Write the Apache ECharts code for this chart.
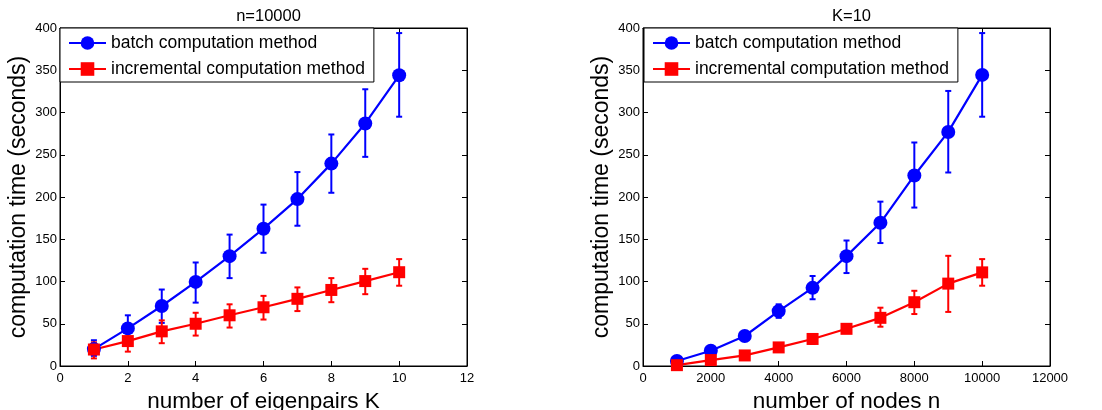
<!DOCTYPE html>
<html>
<head>
<meta charset="utf-8">
<script src="https://cdn.jsdelivr.net/npm/echarts@6/dist/echarts.min.js"></script>
<style>
html,body{margin:0;padding:0;background:#fff;}
#c{width:1102px;height:410px;}
</style>
</head>
<body>
<div id="c"></div>
<script>
// ---- data ----
const leftX = [1, 2, 3, 4, 5, 6, 7, 8, 9, 10];
const leftBatch = [20, 44.5, 71, 99.5, 130, 162.5, 197.5, 239.5, 287, 344];
const leftBatchLo = [12, 29, 51, 75, 104, 134, 166, 205, 247.5, 295];
const leftBatchHi = [30.5, 60, 90.5, 122.5, 155.5, 191, 229.5, 274, 327.5, 394];
const leftInc = [19.5, 29.5, 41, 50, 60, 69.5, 79.5, 90, 100.5, 111];
const leftIncLo = [9, 17, 27, 36, 45.5, 55, 65, 75.5, 85, 95];
const leftIncHi = [28, 40.5, 54, 63, 73, 83, 93, 104, 115, 126.5];

const rightX = [1000, 2000, 3000, 4000, 5000, 6000, 7000, 8000, 9000, 10000];
const rightBatch = [6, 18, 35.5, 65, 92.5, 130, 169.5, 225.5, 277, 344.5];
const rightBatchLo = [4, 15, 32, 57, 79, 110, 145.5, 187.5, 229, 295];
const rightBatchHi = [8, 21, 39, 73, 106.5, 148.5, 194.5, 264.5, 325.5, 394];
const rightInc = [1, 7, 12.5, 22, 32, 44, 57, 75.5, 97.5, 110.8];
const rightIncLo = [0, 5, 10, 19, 26, 39, 46.5, 61.5, 64, 95];
const rightIncHi = [2, 9, 15, 25, 37, 49, 69, 89, 130.4, 126.5];

const titles = ['n=10000', 'K=10'];
const xNames = ['number of eigenpairs K', 'number of nodes n'];
const yName = 'computation time (seconds)';
const names = ['batch computation method', 'incremental computation method'];

// ---- helpers ----
const FONT = '"Liberation Sans", Arial, Helvetica, sans-serif';
const BLUE = '#0000ff', RED = '#ff0000';

function pairs(xs, ys) { return xs.map((x, i) => [x, ys[i]]); }
function triples(xs, lo, hi) { return xs.map((x, i) => [x, lo[i], hi[i]]); }

function errRender(params, api) {
  const x = api.value(0), lo = api.value(1), hi = api.value(2);
  const a = api.coord([x, lo]), b = api.coord([x, hi]);
  const w = 3;
  const style = { stroke: api.visual('color'), lineWidth: 2 };
  return {
    type: 'group',
    children: [
      { type: 'line', shape: { x1: a[0], y1: a[1], x2: b[0], y2: b[1] }, style: style },
      { type: 'line', shape: { x1: a[0] - w, y1: a[1], x2: a[0] + w, y2: a[1] }, style: style },
      { type: 'line', shape: { x1: b[0] - w, y1: b[1], x2: b[0] + w, y2: b[1] }, style: style }
    ]
  };
}

const grids = [
  { left: 60, right: 635, top: 28, bottom: 44 },
  { left: 643, right: 52, top: 28, bottom: 44 }
];

function plain(v) { return String(v); }

function xAx(gi, max, interval, pos, showLabel, name) {
  return {
    type: 'value', gridIndex: gi, min: 0, max: max, interval: interval, position: pos,
    name: name || '', nameLocation: 'middle', nameGap: 18,
    nameTextStyle: { fontSize: 22.5, color: '#000', fontFamily: FONT },
    axisLine: { show: true, onZero: false, lineStyle: { color: '#000', width: 1 } },
    axisTick: { show: true, inside: true, length: 5, lineStyle: { color: '#000' } },
    axisLabel: { show: showLabel, fontSize: 13, color: '#000', fontFamily: FONT, margin: 6, formatter: plain },
    splitLine: { show: false }
  };
}
function yAx(gi, pos, showLabel, name) {
  return {
    type: 'value', gridIndex: gi, min: 0, max: 400, interval: 50, position: pos,
    name: name || '', nameLocation: 'middle', nameGap: 30,
    nameTextStyle: { fontSize: 23, color: '#000', fontFamily: FONT },
    axisLine: { show: true, onZero: false, lineStyle: { color: '#000', width: 1 } },
    axisTick: { show: true, inside: true, length: 5, lineStyle: { color: '#000' } },
    axisLabel: { show: showLabel, fontSize: 13, color: '#000', fontFamily: FONT, margin: 3, formatter: plain },
    splitLine: { show: false }
  };
}

function lineSeries(name, xi, yi, data, color, symbol, size) {
  return {
    name: name, type: 'line', xAxisIndex: xi, yAxisIndex: yi, data: data,
    color: color, symbol: symbol, symbolSize: size, z: 3,
    lineStyle: { color: color, width: 2.2 }, itemStyle: { color: color },
    animation: false
  };
}
function errSeries(name, xi, yi, data, color) {
  return {
    name: name, type: 'custom', xAxisIndex: xi, yAxisIndex: yi, data: data,
    renderItem: errRender, itemStyle: { color: color }, color: color, z: 2,
    animation: false
  };
}

function legend(left) {
  return {
    data: names, left: left, top: 28, orient: 'vertical',
    itemWidth: 37, itemHeight: 17, itemGap: 8,
    padding: [6, 9, 4, 8],
    backgroundColor: '#fff', borderColor: '#000', borderWidth: 1, borderRadius: 0,
    textStyle: { fontSize: 17.5, color: '#000', fontFamily: FONT },
    selectedMode: false
  };
}

const option = {
  backgroundColor: '#fff',
  animation: false,
  textStyle: { fontFamily: FONT },
  title: [
    { text: titles[0], left: 263.5, top: 3, textAlign: 'center',
      textStyle: { fontSize: 16.5, fontWeight: 'normal', color: '#000', fontFamily: FONT } },
    { text: titles[1], left: 846.5, top: 3, textAlign: 'center',
      textStyle: { fontSize: 16.5, fontWeight: 'normal', color: '#000', fontFamily: FONT } }
  ],
  legend: [legend(60), legend(644)],
  grid: grids.map(g => Object.assign({ show: true, borderColor: '#000', borderWidth: 1, backgroundColor: '#fff',
    containLabel: false, outerBoundsMode: 'none' }, g)),
  xAxis: [
    xAx(0, 12, 2, 'bottom', true, xNames[0]),
    xAx(0, 12, 2, 'top', false),
    xAx(1, 12000, 2000, 'bottom', true, xNames[1]),
    xAx(1, 12000, 2000, 'top', false)
  ],
  yAxis: [
    yAx(0, 'left', true, yName),
    yAx(0, 'right', false),
    yAx(1, 'left', true, yName),
    yAx(1, 'right', false)
  ],
  series: [
    errSeries('batch err L', 0, 0, triples(leftX, leftBatchLo, leftBatchHi), BLUE),
    errSeries('inc err L', 0, 0, triples(leftX, leftIncLo, leftIncHi), RED),
    lineSeries(names[0], 0, 0, pairs(leftX, leftBatch), BLUE, 'circle', 14),
    lineSeries(names[1], 0, 0, pairs(leftX, leftInc), RED, 'rect', 12),
    errSeries('batch err R', 2, 2, triples(rightX, rightBatchLo, rightBatchHi), BLUE),
    errSeries('inc err R', 2, 2, triples(rightX, rightIncLo, rightIncHi), RED),
    lineSeries(names[0], 2, 2, pairs(rightX, rightBatch), BLUE, 'circle', 14),
    lineSeries(names[1], 2, 2, pairs(rightX, rightInc), RED, 'rect', 12)
  ]
};

const chart = echarts.init(document.getElementById('c'), null, { renderer: 'canvas' });
chart.setOption(option);
</script>
</body>
</html>
